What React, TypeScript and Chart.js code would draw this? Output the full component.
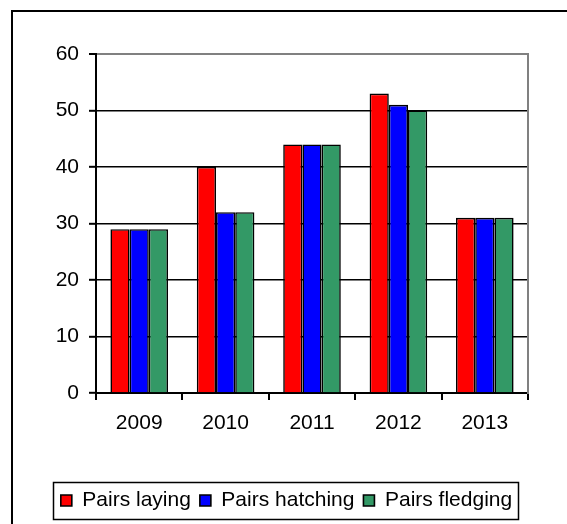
import React, { useEffect, useRef } from "react";
import { Chart, registerables } from "chart.js";

Chart.register(...registerables);

const years = ["2009", "2010", "2011", "2012", "2013"];
const pairsLaying = [29, 40, 44, 53, 31];
const pairsHatching = [29, 32, 44, 51, 31];
const pairsFledging = [29, 32, 44, 50, 31];

const FONT = '"Liberation Sans", Arial, sans-serif';
const FONT_SIZE = 21;

// Outer frame of the chart and the box around the legend.
const framePlugin = {
  id: "frame",
  beforeDraw(chart: any) {
    const ctx = chart.ctx;
    ctx.save();
    ctx.fillStyle = "#fff";
    ctx.fillRect(0, 0, chart.width, chart.height);
    ctx.strokeStyle = "#000";
    ctx.lineWidth = 2;
    ctx.strokeRect(12, 11, chart.width + 20, chart.height + 20);
    ctx.restore();
  },
  afterDraw(chart: any) {
    const legend = chart.legend;
    if (!legend || !legend.legendHitBoxes || !legend.legendHitBoxes.length) return;
    const boxes = legend.legendHitBoxes;
    let l = Infinity, r = -Infinity, t = Infinity, b = -Infinity;
    for (const h of boxes) {
      l = Math.min(l, h.left);
      r = Math.max(r, h.left + h.width);
      t = Math.min(t, h.top);
      b = Math.max(b, h.top + h.height);
    }
    const ctx = chart.ctx;
    ctx.save();
    ctx.strokeStyle = "#000";
    ctx.lineWidth = 1.5;
    ctx.strokeRect(Math.round(l - 8) + 0.5, Math.round(t - 8) + 0.5, Math.round(r - l + 14), Math.round(b - t + 16));
    ctx.restore();
  },
};

export default function App() {
  const ref = useRef<HTMLCanvasElement>(null);

  useEffect(() => {
    if (!ref.current) return;
    const barStyle = { borderColor: "#000", borderWidth: 1.6, borderSkipped: "start" as const };
    const chart = new Chart(ref.current, {
      type: "bar",
      data: {
        labels: years,
        datasets: [
          { label: "Pairs laying", data: pairsLaying, backgroundColor: "#FF0000", ...barStyle },
          { label: "Pairs hatching", data: pairsHatching, backgroundColor: "#0000FF", ...barStyle },
          { label: "Pairs fledging", data: pairsFledging, backgroundColor: "#339966", ...barStyle },
        ],
      },
      options: {
        responsive: false,
        animation: false,
        layout: { padding: { top: 54, left: 6, right: 0, bottom: 3 } },
        datasets: { bar: { categoryPercentage: 2 / 3, barPercentage: 1 } },
        plugins: {
          title: { display: false },
          tooltip: { enabled: false },
          legend: {
            position: "bottom",
            labels: {
              boxWidth: 11,
              boxHeight: 11,
              padding: 9,
              color: "#000",
              font: { family: FONT, size: FONT_SIZE },
            },
          },
        },
        scales: {
          x: {
            offset: true,
            grid: { display: true, offset: true, drawOnChartArea: false, drawTicks: true, tickLength: 7, color: "#000", lineWidth: 2 },
            border: { display: true, color: "#000", width: 2 },
            ticks: { color: "#000", padding: 11, font: { family: FONT, size: FONT_SIZE }, maxRotation: 0 },
            afterFit: (s: any) => { s.height = 88; },
          },
          y: {
            min: 0,
            max: 60,
            ticks: { stepSize: 10, color: "#000", padding: 10, font: { family: FONT, size: FONT_SIZE } },
            grid: {
              drawTicks: true,
              tickLength: 7,
              color: (c: any) => (c.tick && c.tick.value === 60 ? "#808080" : "#000"),
              lineWidth: (c: any) => (c.tick && c.tick.value === 60 ? 2 : 1.6),
              tickColor: "#000",
              tickWidth: 2,
            },
            border: { display: true, color: "#000", width: 2 },
            afterFit: (s: any) => { s.width = 90; },
          },
          yRight: {
            position: "right",
            display: true,
            grid: { display: false, drawOnChartArea: false, drawTicks: false },
            ticks: { display: false },
            border: { display: true, color: "#808080", width: 2 },
            afterFit: (s: any) => { s.width = 39; },
          },
        },
      },
      plugins: [framePlugin],
    });
    return () => chart.destroy();
  }, []);

  return (
    <div style={{ position: "fixed", left: 0, top: 0, width: 567, height: 524, background: "#fff" }}>
      <canvas ref={ref} width={567} height={524} />
    </div>
  );
}
